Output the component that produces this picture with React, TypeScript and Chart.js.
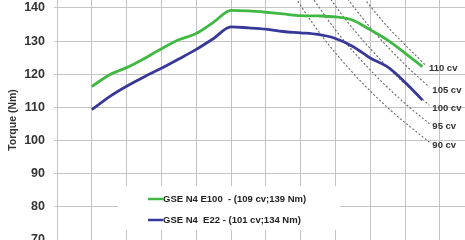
import React, { useEffect, useRef } from "react";
import { Chart, registerables } from "chart.js";

Chart.register(...registerables);

// Engine speed (rpm) for the measured curves
const rpm = [1500, 1750, 2000, 2250, 2500, 2750, 3000, 3250, 3500, 3750, 4000, 4250, 4500, 4750, 5000, 5250, 5500, 5750, 6000, 6250];
const torqueE100 = [116.3, 119.8, 122.0, 124.7, 127.7, 130.4, 132.3, 135.7, 139.3, 139.1, 138.7, 138.2, 137.7, 137.6, 137.3, 136.3, 133.4, 130.3, 126.4, 122.3];
const torqueE22 = [109.3, 113.2, 116.4, 119.2, 121.8, 124.6, 127.5, 130.8, 134.3, 134.0, 133.6, 132.9, 132.5, 132.0, 130.8, 128.4, 124.9, 122.2, 117.6, 112.2];
const seriesLabels = ["GSE N4 E100  - (109 cv;139 Nm)", "GSE N4  E22 - (101 cv;134 Nm)"];
const seriesColors = ["#40b843", "#383899"];

// Constant-power reference lines
const powerLabels = ["90 cv", "95 cv", "100 cv", "105 cv", "110 cv"];
const iso90Rpm = [4300, 4800, 5300, 5800, 6350];
const iso90Torque = [147.0, 131.7, 119.3, 109.0, 99.5];
const iso95Rpm = [4500, 5000, 5500, 6000, 6350];
const iso95Torque = [148.3, 133.4, 121.3, 111.2, 105.1];
const iso100Rpm = [4700, 5200, 5800, 6350];
const iso100Torque = [149.4, 135.1, 121.1, 110.6];
const iso105Rpm = [5000, 5500, 6000, 6350];
const iso105Torque = [147.5, 134.1, 122.9, 116.1];
const iso110Rpm = [5200, 5700, 6300];
const iso110Torque = [148.6, 135.5, 122.6];

const yTicks = [70, 80, 90, 100, 110, 120, 130, 140];
const xGrid = [1000, 1500, 2000, 2500, 3000, 3500, 4000, 4500, 5000, 5500, 6000, 6500];
const yTitle = "Torque (Nm)";

const FONT = "'Liberation Sans', Arial, sans-serif";

const zip = (xs: number[], ys: number[]) => xs.map((x, i) => ({ x, y: ys[i] }));

const isoSets = [
  [iso90Rpm, iso90Torque],
  [iso95Rpm, iso95Torque],
  [iso100Rpm, iso100Torque],
  [iso105Rpm, iso105Torque],
  [iso110Rpm, iso110Torque],
];

const overlayPlugin = {
  id: "overlay",
  afterDatasetsDraw(chart: any) {
    const ctx = chart.ctx as CanvasRenderingContext2D;
    const ca = chart.chartArea;
    ctx.save();
    // iso-power labels at the end of each dashed line
    ctx.font = `bold 9.5px ${FONT}`;
    ctx.fillStyle = "#333";
    ctx.textAlign = "left";
    ctx.textBaseline = "middle";
    chart.data.datasets.forEach((ds: any, i: number) => {
      if (!ds.isIso) return;
      const meta = chart.getDatasetMeta(i);
      const pt = meta.data[meta.data.length - 1];
      ctx.fillText(ds.label, pt.x + 3, pt.y + 3);
    });
    // legend box
    const bx = ca.left + 61;
    const by = ca.top + 186;
    ctx.fillStyle = "#ffffff";
    ctx.fillRect(bx, by, 222, 44);
    ctx.font = `bold 9.5px ${FONT}`;
    const rows = [199, 220];
    chart.data.datasets.forEach((ds: any, i: number) => {
      if (ds.isIso) return;
      const y = ca.top + rows[i];
      ctx.strokeStyle = ds.borderColor;
      ctx.lineWidth = 2.5;
      ctx.beginPath();
      ctx.moveTo(ca.left + 91, y);
      ctx.lineTo(ca.left + 106, y);
      ctx.stroke();
      ctx.fillStyle = "#222";
      ctx.fillText(ds.label, ca.left + 106, y + 0.5);
    });
    ctx.restore();
  },
};

export default function App() {
  const ref = useRef<HTMLCanvasElement | null>(null);

  useEffect(() => {
    if (!ref.current) return;
    const datasets: any[] = [
      {
        label: seriesLabels[0],
        data: zip(rpm, torqueE100),
        borderColor: seriesColors[0],
        borderWidth: 2.8,
        pointRadius: 0,
        cubicInterpolationMode: "monotone",
        fill: false,
      },
      {
        label: seriesLabels[1],
        data: zip(rpm, torqueE22),
        borderColor: seriesColors[1],
        borderWidth: 2.8,
        pointRadius: 0,
        cubicInterpolationMode: "monotone",
        fill: false,
      },
      ...isoSets.map(([xs, ys], i) => ({
        label: powerLabels[i],
        isIso: true,
        data: zip(xs, ys),
        borderColor: "#666666",
        borderWidth: 1.1,
        borderDash: [2, 2],
        pointRadius: 0,
        cubicInterpolationMode: "monotone",
        fill: false,
      })),
    ];

    const chart = new Chart(ref.current, {
      type: "line",
      data: { datasets },
      plugins: [overlayPlugin],
      options: {
        animation: false,
        responsive: false,
        devicePixelRatio: 1,
        layout: { padding: { top: 20, bottom: 20, left: 0, right: 20 } },
        plugins: {
          legend: { display: false },
          tooltip: { enabled: false },
        },
        scales: {
          x: {
            type: "linear",
            min: 1000,
            max: 6862,
            afterBuildTicks: (s: any) => {
              s.ticks = xGrid.map((v) => ({ value: v }));
            },
            ticks: { display: false },
            grid: { color: "#c4c4c4", lineWidth: 1, drawTicks: false },
            border: { display: false },
          },
          y: {
            type: "linear",
            min: 70,
            max: 142.4,
            afterBuildTicks: (s: any) => {
              s.ticks = yTicks.map((v) => ({ value: v }));
            },
            afterFit: (s: any) => {
              s.width = 57;
            },
            ticks: {
              color: "#333",
              font: { family: FONT, size: 12.5, weight: "bold" },
              padding: 9,
            },
            grid: { color: "#c4c4c4", lineWidth: 1, tickLength: 3 },
            border: { display: true, color: "#c4c4c4" },
            title: {
              display: true,
              text: yTitle,
              color: "#333",
              font: { family: FONT, size: 10.5, weight: "bold" },
              padding: { top: 7, bottom: 0 },
            },
          },
        },
      } as any,
    });
    return () => chart.destroy();
  }, []);

  return (
    <div style={{ position: "fixed", left: 0, top: -20, width: 485, height: 280, background: "#fff" }}>
      <canvas ref={ref} width={485} height={280} />
    </div>
  );
}
